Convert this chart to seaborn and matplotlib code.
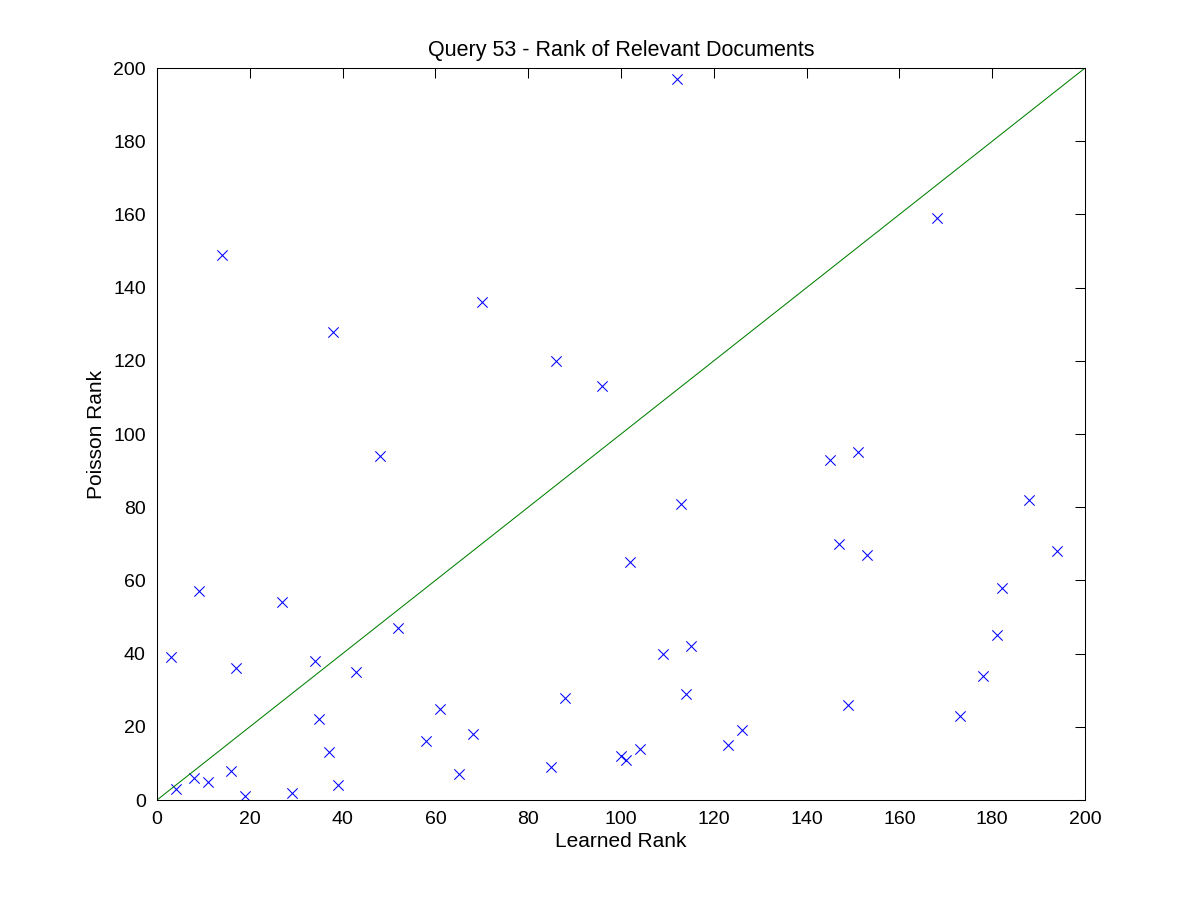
import numpy as np
import pandas as pd
import matplotlib
matplotlib.use("Agg")
import matplotlib.pyplot as plt
import seaborn as sns

# -----------------------------
# Data
# -----------------------------
learned_rank = [3, 4, 8, 9, 11, 14, 16, 17, 19, 27,
                29, 34, 35, 37, 38, 39, 43, 48, 52, 58,
                61, 65, 68, 70, 85, 86, 88, 96, 100, 101,
                102, 104, 109, 112, 113, 114, 115, 123, 126, 145,
                147, 149, 151, 153, 168, 173, 178, 181, 182, 188,
                194]
poisson_rank = [39, 3, 6, 57, 5, 149, 8, 36, 1, 54,
                2, 38, 22, 13, 128, 4, 35, 94, 47, 16,
                25, 7, 18, 136, 9, 120, 28, 113, 12, 11,
                65, 14, 40, 197, 81, 29, 42, 15, 19, 93,
                70, 26, 95, 67, 159, 23, 34, 45, 58, 82,
                68]

diag = [0, 200]

df = pd.DataFrame({"Learned Rank": learned_rank, "Poisson Rank": poisson_rank})

# -----------------------------
# Style
# -----------------------------
sns.set_style("white", {"text.color": "black", "axes.labelcolor": "black",
                        "xtick.color": "black", "ytick.color": "black",
                        "axes.edgecolor": "black"})
plt.rcParams['font.family'] = ['Liberation Sans', 'DejaVu Sans']

fig = plt.figure(figsize=(12, 9), dpi=100)
ax = fig.add_axes([0.1308, 0.1111, 0.7734, 0.8133])

sns.lineplot(x=diag, y=diag, color=(0, 0.5, 0), linewidth=0.75, ax=ax)
sns.scatterplot(data=df, x="Learned Rank", y="Poisson Rank", marker="x",
                color="blue", s=55, linewidth=0.75, ax=ax)

ax.set_xlim(0, 200)
ax.set_ylim(0, 200)
ax.set_xticks(np.arange(0, 201, 20))
ax.set_yticks(np.arange(0, 201, 20))

ax.tick_params(direction="in", length=7, width=0.75, labelsize=14,
               top=True, right=True, pad=8, colors="black")
for sp in ax.spines.values():
    sp.set_linewidth(0.75)
    sp.set_color("black")

ax.set_title("Query 53 - Rank of Relevant Documents", fontsize=15.5, pad=9,
             color="black")
ax.set_xlabel("Learned Rank", fontsize=15, labelpad=3, color="black")
ax.set_ylabel("Poisson Rank", fontsize=15, labelpad=5, color="black")

fig.savefig("out.png", dpi=100)
